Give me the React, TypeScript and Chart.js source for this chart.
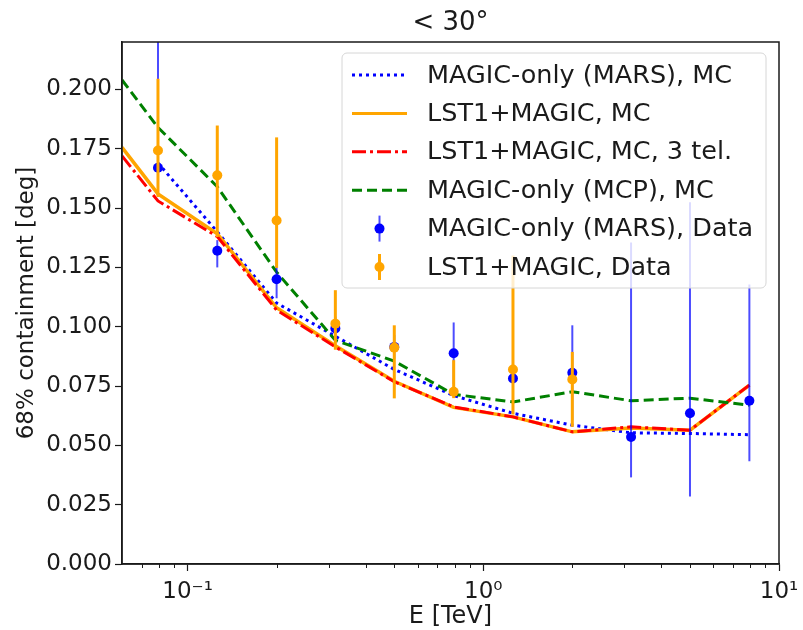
import React, { useEffect, useRef } from 'react';
import { Chart, registerables } from 'chart.js';

Chart.register(...registerables);

const FONT = "'DejaVu Sans', 'Liberation Sans', sans-serif";

// ---- data ----
const mcEnergy = [0.06, 0.0794, 0.126, 0.2, 0.316, 0.5, 0.794, 1.26, 2.0, 3.16, 5.0, 7.94];
const marsMcEnergy = [0.0794, 0.126, 0.2, 0.316, 0.5, 0.794, 1.26, 2.0, 3.16, 5.0, 7.94];
const marsMc = [0.169, 0.140, 0.110, 0.096, 0.082, 0.071, 0.0635, 0.0585, 0.0553, 0.055, 0.0545];
const lstMc = [0.1756, 0.156, 0.1392, 0.108, 0.092, 0.077, 0.066, 0.062, 0.0557, 0.0573, 0.0564, 0.0754];
const lst3Mc = [0.172, 0.153, 0.138, 0.107, 0.0915, 0.0768, 0.0662, 0.062, 0.0557, 0.0578, 0.0564, 0.0754];
const mcpMc = [0.204, 0.184, 0.159, 0.123, 0.0943, 0.0855, 0.0715, 0.0683, 0.0726, 0.0688, 0.0699, 0.0669];

const marsDataEnergy = [0.0794, 0.126, 0.2, 0.316, 0.5, 0.794, 1.26, 2.0, 3.16, 5.0, 7.94];
const marsData = [0.167, 0.132, 0.120, 0.0993, 0.0915, 0.0888, 0.0782, 0.0806, 0.0535, 0.0635, 0.0688];
const marsErrUp = [0.07, 0.0045, 0.008, 0.005, 0.005, 0.013, 0.012, 0.020, 0.082, 0.089, 0.049];
const marsErrDown = [0.012, 0.007, 0.008, 0.005, 0.005, 0.013, 0.012, 0.020, 0.017, 0.035, 0.0255];

const lstDataEnergy = [0.0794, 0.126, 0.2, 0.316, 0.5, 0.794, 1.26, 2.0];
const lstData = [0.1743, 0.1638, 0.1448, 0.1013, 0.0912, 0.0726, 0.082, 0.0778];
const lstErrUp = [0.0302, 0.021, 0.035, 0.0141, 0.0094, 0.0133, 0.048, 0.0116];
const lstErrDown = [0.0196, 0.026, 0.020, 0.011, 0.0214, 0.0027, 0.019, 0.020];

const xTickValues = [0.07, 0.08, 0.09, 0.1, 0.2, 0.3, 0.4, 0.5, 0.6, 0.7, 0.8, 0.9, 1, 2, 3, 4, 5, 6, 7, 8, 9, 10];
const xMajorTicks = [0.1, 1, 10];
const xMajorLabels = ['10\u207B\u00B9', '10\u2070', '10\u00B9'];

const titleText = '< 30\u00B0';
const xTitle = 'E [TeV]';
const yTitle = '68% containment [deg]';
const legendLabels = [
  'MAGIC-only (MARS), MC',
  'LST1+MAGIC, MC',
  'LST1+MAGIC, MC, 3 tel.',
  'MAGIC-only (MCP), MC',
  'MAGIC-only (MARS), Data',
  'LST1+MAGIC, Data',
];

const BLUE = '#0000ff';
const ORANGE = '#ffa500';
const RED = '#ff0000';
const GREEN = '#008000';
const TEXT = '#1a1a1a';

const isMajor = (v: number) => xMajorTicks.some((m) => Math.abs(Math.log10(v) - Math.log10(m)) < 1e-6);

const errorBarPlugin = {
  id: 'errorBars',
  beforeDatasetDraw(chart: any, args: any) {
    const ds = chart.data.datasets[args.index];
    if (!ds.errUp) return;
    const { ctx, chartArea, scales } = chart;
    ctx.save();
    ctx.beginPath();
    ctx.rect(chartArea.left, chartArea.top, chartArea.right - chartArea.left, chartArea.bottom - chartArea.top);
    ctx.clip();
    ctx.strokeStyle = ds.errColor;
    ctx.lineWidth = ds.errWidth;
    ds.data.forEach((p: any, i: number) => {
      const x = scales.x.getPixelForValue(p.x);
      const y1 = scales.y.getPixelForValue(p.y + ds.errUp[i]);
      const y2 = scales.y.getPixelForValue(p.y - ds.errDown[i]);
      ctx.beginPath();
      ctx.moveTo(x, y1);
      ctx.lineTo(x, y2);
      ctx.stroke();
    });
    ctx.restore();
  },
};

const framePlugin = {
  id: 'frameAndMinor',
  afterDatasetsDraw(chart: any) {
    const { ctx, chartArea, scales } = chart;
    ctx.save();
    ctx.strokeStyle = TEXT;
    ctx.lineWidth = 1.5;
    ctx.strokeRect(chartArea.left, chartArea.top, chartArea.right - chartArea.left, chartArea.bottom - chartArea.top);
    ctx.lineWidth = 1;
    xTickValues.forEach((v) => {
      if (isMajor(v)) return;
      const x = Math.round(scales.x.getPixelForValue(v)) + 0.5;
      ctx.beginPath();
      ctx.moveTo(x, chartArea.bottom);
      ctx.lineTo(x, chartArea.bottom + 4);
      ctx.stroke();
    });
    // title centred over the plot area
    ctx.fillStyle = TEXT;
    ctx.font = `26px ${FONT}`;
    ctx.textAlign = 'center';
    ctx.textBaseline = 'middle';
    ctx.fillText(titleText, (chartArea.left + chartArea.right) / 2, 23);
    ctx.restore();
  },
};

const legendPlugin = {
  id: 'customLegend',
  afterDraw(chart: any) {
    const { ctx } = chart;
    const left = 342, top = 53, right = 766, bottom = 288, r = 5;
    ctx.save();
    ctx.beginPath();
    ctx.moveTo(left + r, top);
    ctx.arcTo(right, top, right, bottom, r);
    ctx.arcTo(right, bottom, left, bottom, r);
    ctx.arcTo(left, bottom, left, top, r);
    ctx.arcTo(left, top, right, top, r);
    ctx.closePath();
    ctx.fillStyle = 'rgba(255,255,255,0.8)';
    ctx.fill();
    ctx.strokeStyle = '#d6d6d6';
    ctx.lineWidth = 1;
    ctx.stroke();

    const rowStep = 38.4;
    const row0 = 75;
    const hx0 = 352, hx1 = 407, hxm = 379.5;
    const styles = [
      { kind: 'line', color: BLUE, dash: [3, 4], width: 3 },
      { kind: 'line', color: ORANGE, dash: [], width: 3 },
      { kind: 'line', color: RED, dash: [14, 4, 3, 4], width: 3 },
      { kind: 'line', color: GREEN, dash: [10, 5], width: 3 },
      { kind: 'err', color: BLUE, bar: 'rgba(0,0,255,0.7)', width: 2 },
      { kind: 'err', color: ORANGE, bar: ORANGE, width: 3 },
    ];
    styles.forEach((s: any, i: number) => {
      const y = row0 + i * rowStep;
      if (s.kind === 'line') {
        ctx.beginPath();
        ctx.setLineDash(s.dash);
        ctx.strokeStyle = s.color;
        ctx.lineWidth = s.width;
        ctx.moveTo(hx0, y);
        ctx.lineTo(hx1, y);
        ctx.stroke();
        ctx.setLineDash([]);
      } else {
        ctx.beginPath();
        ctx.strokeStyle = s.bar;
        ctx.lineWidth = s.width;
        ctx.moveTo(hxm, y - 13);
        ctx.lineTo(hxm, y + 13);
        ctx.stroke();
        ctx.beginPath();
        ctx.fillStyle = s.color;
        ctx.arc(hxm, y, 5, 0, Math.PI * 2);
        ctx.fill();
      }
      ctx.fillStyle = TEXT;
      ctx.font = `25.5px ${FONT}`;
      ctx.textBaseline = 'middle';
      ctx.textAlign = 'left';
      ctx.fillText(legendLabels[i], 427, y + 1);
    });
    ctx.restore();
  },
};

export default function App() {
  const canvasRef = useRef<HTMLCanvasElement | null>(null);

  useEffect(() => {
    const canvas = canvasRef.current;
    if (!canvas) return;
    const toXY = (xs: number[], ys: number[]) => ys.map((y, i) => ({ x: xs[i], y }));
    const chart = new Chart(canvas, {
      type: 'line',
      data: {
        datasets: [
          {
            label: legendLabels[0], data: toXY(marsMcEnergy, marsMc), borderColor: BLUE, borderDash: [3, 4],
            borderWidth: 3, pointRadius: 0, fill: false, order: 6, tension: 0,
          },
          {
            label: legendLabels[1], data: toXY(mcEnergy, lstMc), borderColor: ORANGE,
            borderWidth: 3.5, pointRadius: 0, fill: false, order: 5, tension: 0,
          },
          {
            label: legendLabels[2], data: toXY(mcEnergy, lst3Mc), borderColor: RED, borderDash: [14, 4, 3, 4],
            borderWidth: 3, pointRadius: 0, fill: false, order: 4, tension: 0,
          },
          {
            label: legendLabels[3], data: toXY(mcEnergy, mcpMc), borderColor: GREEN, borderDash: [10, 5],
            borderWidth: 3, pointRadius: 0, fill: false, order: 3, tension: 0,
          },
          {
            label: legendLabels[4], data: toXY(marsDataEnergy, marsData), showLine: false,
            pointRadius: 5, pointBackgroundColor: BLUE, pointBorderWidth: 0, borderColor: BLUE, order: 2,
            errUp: marsErrUp, errDown: marsErrDown, errColor: 'rgba(0,0,255,0.7)', errWidth: 2,
          } as any,
          {
            label: legendLabels[5], data: toXY(lstDataEnergy, lstData), showLine: false,
            pointRadius: 5, pointBackgroundColor: ORANGE, pointBorderWidth: 0, borderColor: ORANGE, order: 1,
            errUp: lstErrUp, errDown: lstErrDown, errColor: ORANGE, errWidth: 3,
          } as any,
        ],
      },
      options: {
        animation: false,
        responsive: false,
        maintainAspectRatio: false,
        layout: { padding: { left: 0, right: 24, top: 42, bottom: 0 } },
        plugins: {
          legend: { display: false },
          tooltip: { enabled: false },
          title: { display: false },
        },
        scales: {
          x: {
            type: 'logarithmic',
            min: 0.06,
            max: 10,
            afterBuildTicks: (scale: any) => {
              scale.ticks = xTickValues.map((v) => ({ value: v, major: isMajor(v) }));
            },
            afterFit: (scale: any) => {
              scale.height = 66;
              scale.paddingLeft = 0;
              scale.paddingRight = 0;
            },
            ticks: {
              autoSkip: false,
              maxRotation: 0,
              minRotation: 0,
              padding: 7,
              color: TEXT,
              font: { family: FONT, size: 23 },
              callback: (value: any) => {
                const idx = xMajorTicks.findIndex((m) => Math.abs(Math.log10(Number(value)) - Math.log10(m)) < 1e-6);
                return idx >= 0 ? xMajorLabels[idx] : '';
              },
            },
            grid: {
              drawOnChartArea: false,
              drawTicks: true,
              tickLength: 7,
              tickWidth: 1.2,
              tickColor: (ctx: any) => (ctx.tick && isMajor(ctx.tick.value) ? TEXT : 'rgba(0,0,0,0)'),
            },
            border: { display: true, color: TEXT, width: 1.5 },
            title: {
              display: true,
              text: xTitle,
              color: TEXT,
              font: { family: FONT, size: 24 },
              padding: { top: 0, bottom: -1 },
            },
          },
          y: {
            type: 'linear',
            min: 0,
            max: 0.22,
            afterFit: (scale: any) => {
              scale.width = 122;
              scale.paddingTop = 0;
              scale.paddingBottom = 0;
            },
            ticks: {
              stepSize: 0.025,
              includeBounds: false,
              padding: 3,
              color: TEXT,
              font: { family: FONT, size: 23 },
              callback: (value: any) => Number(value).toFixed(3),
            },
            grid: {
              drawOnChartArea: false,
              drawTicks: true,
              tickLength: 7,
              tickWidth: 1.2,
              tickColor: TEXT,
            },
            border: { display: true, color: TEXT, width: 1.5 },
            title: {
              display: true,
              text: yTitle,
              color: TEXT,
              font: { family: FONT, size: 23 },
              padding: { top: 13, bottom: 0 },
            },
          },
        },
      } as any,
      plugins: [errorBarPlugin, framePlugin, legendPlugin],
    });
    return () => chart.destroy();
  }, []);

  return (
    <div style={{ position: 'absolute', left: 0, top: 0, width: 803, height: 630, background: '#fff' }}>
      <canvas ref={canvasRef} width={803} height={630} style={{ width: 803, height: 630, display: 'block' }} />
    </div>
  );
}
